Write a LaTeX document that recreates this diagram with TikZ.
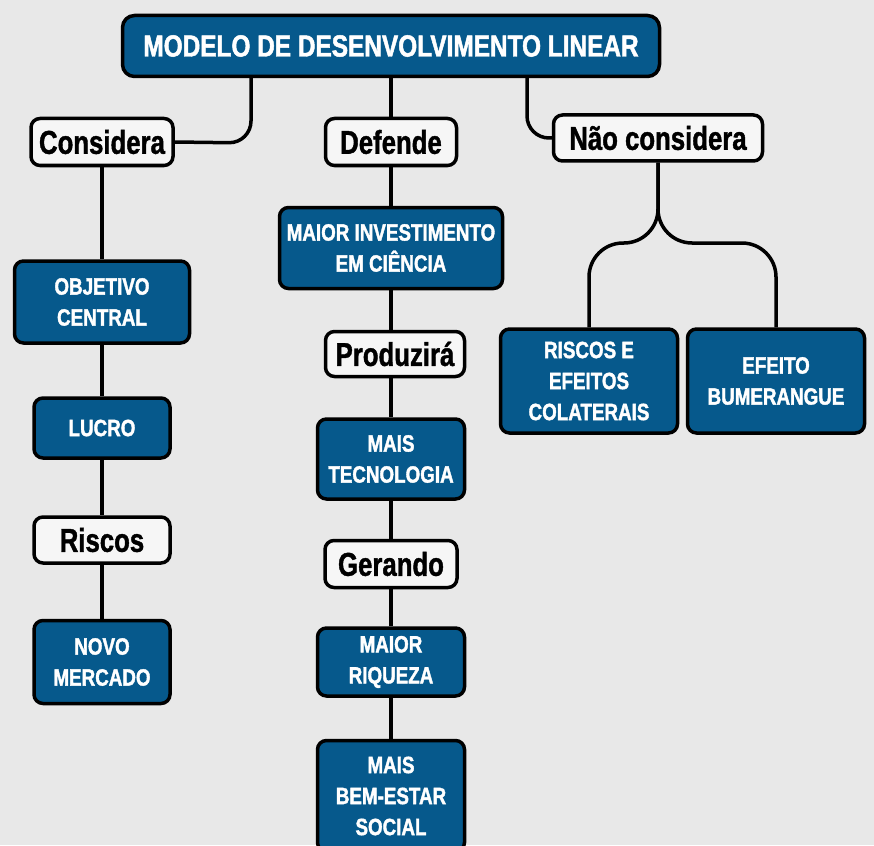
\documentclass[tikz,border=0pt]{standalone}
\usepackage{fontspec}
\newfontfamily\capsfont[FakeStretch=0.8, BoldFeatures={FakeBold=1.6}]{Liberation Sans}
\newfontfamily\labfont[FakeStretch=0.78, BoldFeatures={FakeBold=1.2}]{Liberation Sans}
\definecolor{boxblue}{RGB}{6,89,140}
\definecolor{paper}{RGB}{232,232,232}
\definecolor{labfill}{RGB}{246,246,246}
\tikzset{
  box/.style={draw=black, line width=3.5pt, rounded corners=9pt, inner sep=0pt, align=center},
  bluebox/.style={box, fill=boxblue, text=white, font=\capsfont\bfseries\fontsize{23.5}{31}\selectfont},
  titlebox/.style={box, fill=boxblue, text=white, rounded corners=12pt, font=\capsfont\bfseries\fontsize{30.5}{32}\selectfont},
  labbox/.style={box, fill=labfill, text=black, font=\labfont\bfseries\fontsize{33}{36}\selectfont},
  conn/.style={draw=black, line width=3.5pt}
}
\begin{document}
\begin{tikzpicture}[x=1pt,y=-1pt]
\fill[paper] (0,0) rectangle (874,845);
\useasboundingbox (0,0) rectangle (874,845);
\clip (0,0) rectangle (874,845);
% nodes
\node[titlebox, minimum width=537, minimum height=61] (title) at (391,46) {MODELO DE DESENVOLVIMENTO LINEAR};
\node[labbox, minimum width=142, minimum height=47] (cons) at (102,142) {Considera};
\node[labbox, minimum width=131, minimum height=47] (def) at (391,142) {Defende};
\node[labbox, minimum width=209, minimum height=46] (nao) at (658,138) {Não considera};
\node[bluebox, minimum width=223, minimum height=81] (inv) at (391,248) {MAIOR INVESTIMENTO\\EM CIÊNCIA};
\node[bluebox, minimum width=175, minimum height=82] (obj) at (102,302) {OBJETIVO\\CENTRAL};
\node[labbox, minimum width=139, minimum height=45] (prod) at (395,354) {Produzirá};
\node[bluebox, minimum width=177, minimum height=104] (risk) at (589,381) {RISCOS E\\EFEITOS\\COLATERAIS};
\node[bluebox, minimum width=177, minimum height=104] (bum) at (776,381) {EFEITO\\BUMERANGUE};
\node[bluebox, minimum width=136, minimum height=60] (lucro) at (102,428) {LUCRO};
\node[bluebox, minimum width=147, minimum height=80] (tec) at (391,459) {MAIS\\TECNOLOGIA};
\node[labbox, minimum width=136, minimum height=46] (ris) at (102,540) {Riscos};
\node[labbox, minimum width=132, minimum height=47] (ger) at (391,564) {Gerando};
\node[bluebox, minimum width=136, minimum height=83] (novo) at (102,662) {NOVO\\MERCADO};
\node[bluebox, minimum width=147, minimum height=68] (riq) at (391,662) {MAIOR\\RIQUEZA};
\node[bluebox, minimum width=147, minimum height=111] (bem) at (391,796) {MAIS\\BEM-ESTAR\\SOCIAL};
% connector helpers
\coordinate (cl) at (251,143);
\coordinate (cr) at (527,138);
\coordinate (fk) at (658,243);
% connectors
\draw[conn, rounded corners=22pt] (title.south -| cl) -- (cl) -- (cons.east);
\draw[conn, rounded corners=22pt] (title.south -| cr) -- (cr) -- (nao.west);
\draw[conn] (title.south) -- (def.north);
\draw[conn] (def.south) -- (inv.north);
\draw[conn] (inv.south) -- (inv.south |- prod.north);
\draw[conn] (prod.south -| tec.north) -- (tec.north);
\draw[conn] (tec.south) -- (ger.north);
\draw[conn] (ger.south) -- (riq.north);
\draw[conn] (riq.south) -- (bem.north);
\draw[conn] (cons.south) -- (obj.north);
\draw[conn] (obj.south) -- (lucro.north);
\draw[conn] (lucro.south) -- (ris.north);
\draw[conn] (ris.south) -- (novo.north);
\draw[conn, rounded corners=34pt] (nao.south) -- (fk) -- (fk -| risk.north) -- (risk.north);
\draw[conn, rounded corners=34pt] (nao.south) -- (fk) -- (fk -| bum.north) -- (bum.north);
\end{tikzpicture}
\end{document}
